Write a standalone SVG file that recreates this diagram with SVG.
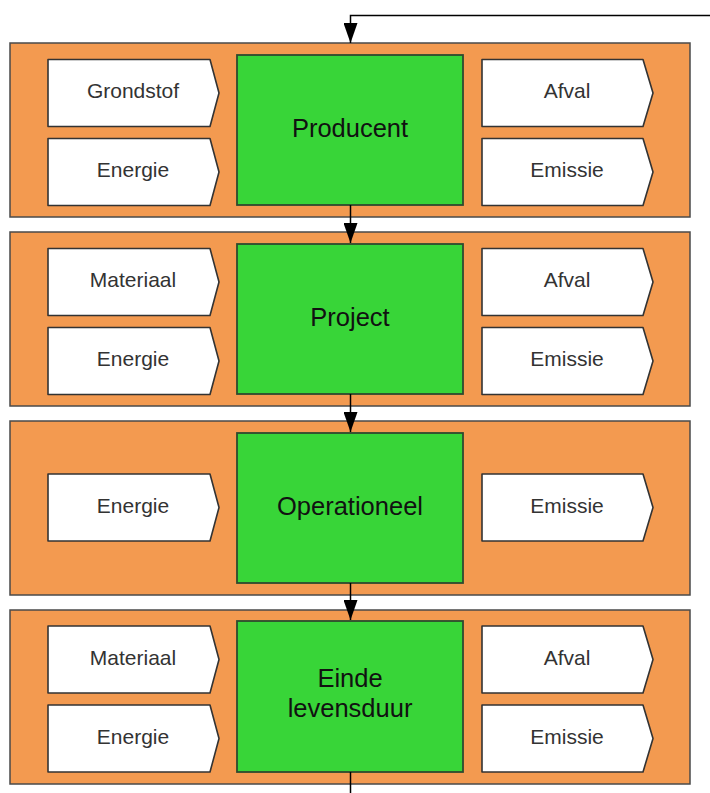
<svg xmlns="http://www.w3.org/2000/svg" width="710" height="793" viewBox="0 0 710 793">
<style>
.row{fill:#F39A50;stroke:#4a4a4a;stroke-width:1.5}
.core{fill:#38D538;stroke:#2f4a2f;stroke-width:1.8}
.chev{fill:#ffffff;stroke:#333333;stroke-width:1.6;stroke-linejoin:round}
.lbl{font-family:"Liberation Sans",Arial,sans-serif;font-size:21px;fill:#333333;text-anchor:middle}
.big{font-family:"Liberation Sans",Arial,sans-serif;font-size:25.5px;fill:#111111;text-anchor:middle}
.conn{fill:none;stroke:#000000;stroke-width:1.5}
</style>
<defs>
<marker id="arr" markerWidth="20" markerHeight="14" refX="20" refY="7" orient="auto" markerUnits="userSpaceOnUse" viewBox="0 0 20 14">
<path d="M0,0 L20,7 L0,14 Z" fill="#000000"/>
</marker>
<path id="chL" d="M48,0 H210 L219,33.5 L210,67 H48 Z"/>
<path id="chR" d="M482,0 H643 L653,33.5 L643,67 H482 Z"/>
</defs>

<g id="row-producent">
<rect class="row" x="10" y="43" width="680" height="174"/>
<g id="producent-grondstof"><use href="#chL" class="chev" y="59.5"/><text class="lbl" x="133" y="98">Grondstof</text></g>
<g id="producent-energie"><use href="#chL" class="chev" y="138.5"/><text class="lbl" x="133" y="177">Energie</text></g>
<g id="producent"><rect class="core" x="237" y="55" width="226" height="150"/><text class="big" x="350" y="137">Producent</text></g>
<g id="producent-afval"><use href="#chR" class="chev" y="59.5"/><text class="lbl" x="567" y="98">Afval</text></g>
<g id="producent-emissie"><use href="#chR" class="chev" y="138.5"/><text class="lbl" x="567" y="177">Emissie</text></g>
</g>

<g id="row-project">
<rect class="row" x="10" y="232" width="680" height="174"/>
<g id="project-materiaal"><use href="#chL" class="chev" y="248.5"/><text class="lbl" x="133" y="287">Materiaal</text></g>
<g id="project-energie"><use href="#chL" class="chev" y="327.5"/><text class="lbl" x="133" y="366">Energie</text></g>
<g id="project"><rect class="core" x="237" y="244" width="226" height="150"/><text class="big" x="350" y="326">Project</text></g>
<g id="project-afval"><use href="#chR" class="chev" y="248.5"/><text class="lbl" x="567" y="287">Afval</text></g>
<g id="project-emissie"><use href="#chR" class="chev" y="327.5"/><text class="lbl" x="567" y="366">Emissie</text></g>
</g>

<g id="row-operationeel">
<rect class="row" x="10" y="421" width="680" height="174"/>
<g id="operationeel-energie"><use href="#chL" class="chev" y="474"/><text class="lbl" x="133" y="512.5">Energie</text></g>
<g id="operationeel"><rect class="core" x="237" y="433" width="226" height="150"/><text class="big" x="350" y="515">Operationeel</text></g>
<g id="operationeel-emissie"><use href="#chR" class="chev" y="474"/><text class="lbl" x="567" y="512.5">Emissie</text></g>
</g>

<g id="row-einde">
<rect class="row" x="10" y="610" width="680" height="174"/>
<g id="einde-materiaal"><use href="#chL" class="chev" y="626"/><text class="lbl" x="133" y="665">Materiaal</text></g>
<g id="einde-energie"><use href="#chL" class="chev" y="705"/><text class="lbl" x="133" y="744">Energie</text></g>
<g id="einde"><rect class="core" x="237" y="621" width="226" height="151"/><text class="big" x="350" y="687">Einde</text><text class="big" x="350" y="717">levensduur</text></g>
<g id="einde-afval"><use href="#chR" class="chev" y="626"/><text class="lbl" x="567" y="665">Afval</text></g>
<g id="einde-emissie"><use href="#chR" class="chev" y="705"/><text class="lbl" x="567" y="744">Emissie</text></g>
</g>

<g id="connectors">
<path class="conn" d="M710,15.5 H350.5 V43" marker-end="url(#arr)"/>
<path class="conn" d="M350.5,205 V243" marker-end="url(#arr)"/>
<path class="conn" d="M350.5,394 V432" marker-end="url(#arr)"/>
<path class="conn" d="M350.5,583 V620" marker-end="url(#arr)"/>
<path class="conn" d="M350.5,772 V793"/>
</g>
</svg>
